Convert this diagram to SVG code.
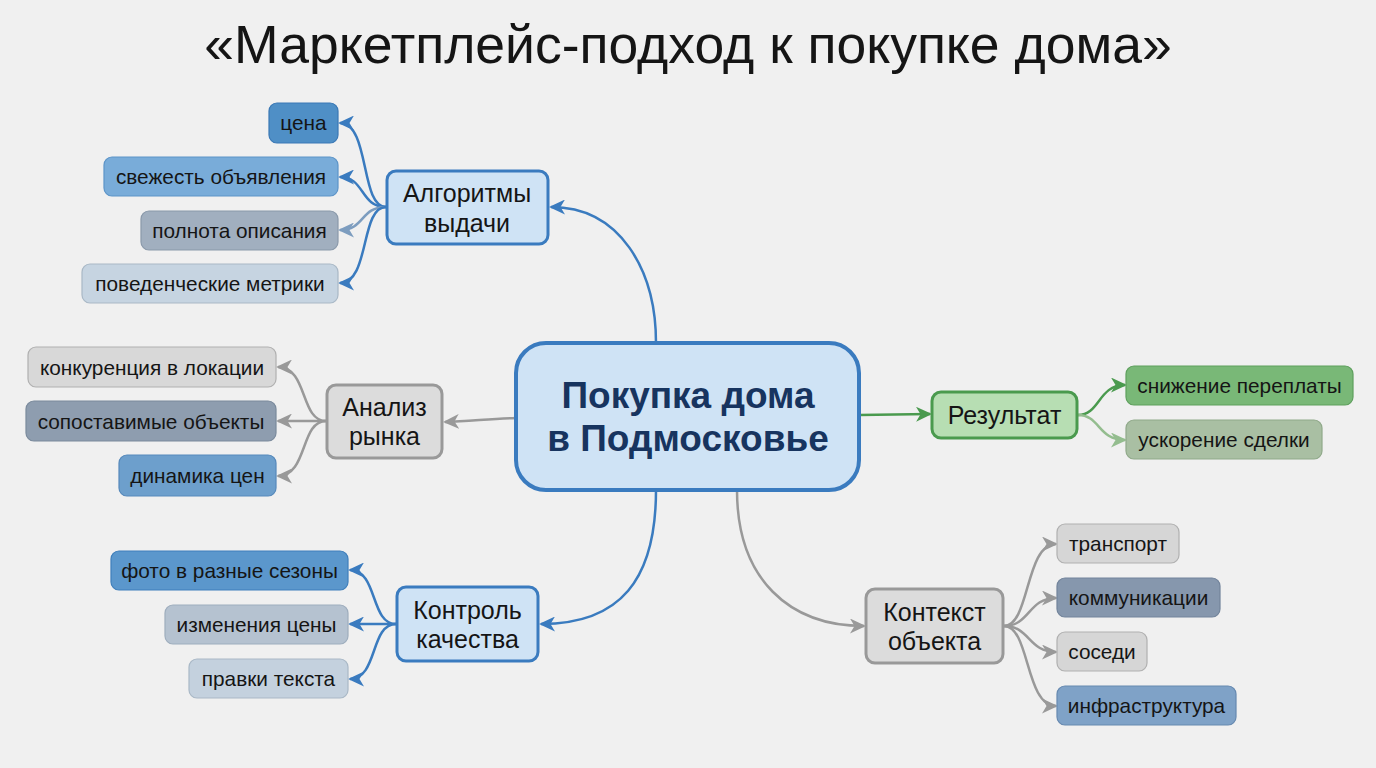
<svg xmlns="http://www.w3.org/2000/svg" width="1376" height="768" viewBox="0 0 1376 768">
<defs>
<style>
text{font-family:"Liberation Sans",Arial,sans-serif;fill:#151515;text-anchor:middle}
.title{font-size:53.5px}
.center{font-size:37px;font-weight:bold;fill:#17345f}
.mid{font-size:25px}
.leaf{font-size:20.8px}
.c{fill:none;stroke-width:2.5}
.blue{stroke:#3a7bbf}
.lblue{stroke:#7d9dbf}
.gray{stroke:#999}
.green{stroke:#4a9a4e}
.lgreen{stroke:#94bd8f}
.mb{fill:#cfe3f5;stroke:#3a7bbf;stroke-width:3}
.mg{fill:#dcdcdc;stroke:#999;stroke-width:3}
.mgr{fill:#b7deb3;stroke:#4a9a4e;stroke-width:3}
.lf{stroke-width:1.2}
</style>
<marker id="ab" markerUnits="userSpaceOnUse" markerWidth="17" markerHeight="15" refX="14" refY="7.5" orient="auto"><path d="M0,0 L16,7.5 L0,15 L4.5,7.5 z" fill="#3a7bbf"/></marker>
<marker id="alb" markerUnits="userSpaceOnUse" markerWidth="17" markerHeight="15" refX="14" refY="7.5" orient="auto"><path d="M0,0 L16,7.5 L0,15 L4.5,7.5 z" fill="#7d9dbf"/></marker>
<marker id="ag" markerUnits="userSpaceOnUse" markerWidth="17" markerHeight="15" refX="14" refY="7.5" orient="auto"><path d="M0,0 L16,7.5 L0,15 L4.5,7.5 z" fill="#999"/></marker>
<marker id="agr" markerUnits="userSpaceOnUse" markerWidth="17" markerHeight="15" refX="14" refY="7.5" orient="auto"><path d="M0,0 L16,7.5 L0,15 L4.5,7.5 z" fill="#4a9a4e"/></marker>
<marker id="algr" markerUnits="userSpaceOnUse" markerWidth="17" markerHeight="15" refX="14" refY="7.5" orient="auto"><path d="M0,0 L16,7.5 L0,15 L4.5,7.5 z" fill="#94bd8f"/></marker>
</defs>
<rect width="1376" height="768" fill="#f0f0f0"/>
<text class="title" x="688" y="63">«Маркетплейс-подход к покупке дома»</text>

<g id="connectors">
<path class="c blue" d="M656,343 C656,270 620,207 551,207" marker-end="url(#ab)"/>
<path class="c gray" d="M516,418 C490,419 470,421 445,422" marker-end="url(#ag)"/>
<path class="c blue" d="M656,490 C656,580 620,624 541,624" marker-end="url(#ab)"/>
<path class="c green" d="M859,415 L930,414" marker-end="url(#agr)"/>
<path class="c gray" d="M737,490 C737,580 790,626 864,626" marker-end="url(#ag)"/>

<path class="c blue" d="M386,207 C360,207 370,123 340,123" marker-end="url(#ab)"/>
<path class="c blue" d="M386,207 C360,207 365,177 340,177" marker-end="url(#ab)"/>
<path class="c lblue" d="M386,207 C360,207 365,230 340,230" marker-end="url(#alb)"/>
<path class="c blue" d="M386,207 C360,207 370,283 340,283" marker-end="url(#ab)"/>

<path class="c gray" d="M326,421 C300,421 308,367 278,367" marker-end="url(#ag)"/>
<path class="c gray" d="M326,421 L278,421" marker-end="url(#ag)"/>
<path class="c gray" d="M326,421 C300,421 308,476 278,476" marker-end="url(#ag)"/>

<path class="c blue" d="M396,624 C370,624 378,570 350,570" marker-end="url(#ab)"/>
<path class="c blue" d="M396,624 L350,624" marker-end="url(#ab)"/>
<path class="c blue" d="M396,624 C370,624 378,679 350,679" marker-end="url(#ab)"/>

<path class="c green" d="M1078,415 C1100,415 1098,385 1125,385" marker-end="url(#agr)"/>
<path class="c lgreen" d="M1078,415 C1100,415 1098,440 1125,440" marker-end="url(#algr)"/>

<path class="c gray" d="M1004,626 C1030,626 1025,544 1056,544" marker-end="url(#ag)"/>
<path class="c gray" d="M1004,626 C1030,626 1028,598 1056,598" marker-end="url(#ag)"/>
<path class="c gray" d="M1004,626 C1030,626 1028,652 1056,652" marker-end="url(#ag)"/>
<path class="c gray" d="M1004,626 C1030,626 1025,706 1056,706" marker-end="url(#ag)"/>
</g>

<g id="center">
<rect x="516" y="343" width="343" height="147" rx="30" fill="#cfe3f5" stroke="#3a7bbf" stroke-width="4"/>
<text class="center" x="688" y="408">Покупка дома</text>
<text class="center" x="688" y="451">в Подмосковье</text>
</g>

<g id="algoritmy">
<rect class="mb" x="387" y="171" width="161" height="73" rx="9"/>
<text class="mid" x="467" y="202">Алгоритмы</text>
<text class="mid" x="467" y="232">выдачи</text>
</g>
<g id="leaf-cena"><rect class="lf" x="269" y="103" width="69" height="40" rx="8" fill="#4f8fc6" stroke="#3a78b5"/><text class="leaf" x="303.5" y="130">цена</text></g>
<g id="leaf-svezhest"><rect class="lf" x="104" y="157" width="234" height="39" rx="8" fill="#79acd9" stroke="#5c94c8"/><text class="leaf" x="221" y="184">свежесть объявления</text></g>
<g id="leaf-polnota"><rect class="lf" x="141" y="211" width="197" height="39" rx="8" fill="#a1afbf" stroke="#8a99aa"/><text class="leaf" x="239.5" y="238">полнота описания</text></g>
<g id="leaf-povedench"><rect class="lf" x="82" y="264" width="256" height="39" rx="8" fill="#c6d4e1" stroke="#a9b8c6"/><text class="leaf" x="210" y="291">поведенческие метрики</text></g>

<g id="analiz">
<rect class="mg" x="327" y="385" width="115" height="73" rx="9"/>
<text class="mid" x="384.5" y="416">Анализ</text>
<text class="mid" x="384.5" y="445">рынка</text>
</g>
<g id="leaf-konkur"><rect class="lf" x="28" y="347" width="248" height="40" rx="8" fill="#d8d8d8" stroke="#b0b0b0"/><text class="leaf" x="152" y="375">конкуренция в локации</text></g>
<g id="leaf-sopost"><rect class="lf" x="26" y="401" width="250" height="40" rx="8" fill="#8e9daf" stroke="#7a8a9c"/><text class="leaf" x="151" y="429">сопоставимые объекты</text></g>
<g id="leaf-dinamika"><rect class="lf" x="119" y="455" width="157" height="41" rx="8" fill="#6d9fcc" stroke="#5689bb"/><text class="leaf" x="197.5" y="483">динамика цен</text></g>

<g id="kontrol">
<rect class="mb" x="397" y="587" width="141" height="74" rx="9"/>
<text class="mid" x="467.5" y="619">Контроль</text>
<text class="mid" x="467.5" y="648">качества</text>
</g>
<g id="leaf-foto"><rect class="lf" x="111" y="551" width="237" height="39" rx="8" fill="#5b97cc" stroke="#3f7fbb"/><text class="leaf" x="229.5" y="578">фото в разные сезоны</text></g>
<g id="leaf-izmen"><rect class="lf" x="165" y="605" width="183" height="39" rx="8" fill="#b5c2d0" stroke="#9eadbd"/><text class="leaf" x="256.5" y="632">изменения цены</text></g>
<g id="leaf-pravki"><rect class="lf" x="189" y="659" width="159" height="39" rx="8" fill="#c4d1de" stroke="#a9b8c6"/><text class="leaf" x="268.5" y="686">правки текста</text></g>

<g id="rezultat">
<rect class="mgr" x="932" y="392" width="145" height="46" rx="9"/>
<text class="mid" x="1004.5" y="424">Результат</text>
</g>
<g id="leaf-snizh"><rect class="lf" x="1126" y="366" width="227" height="39" rx="8" fill="#79b877" stroke="#5e9f5d"/><text class="leaf" x="1239.5" y="393">снижение переплаты</text></g>
<g id="leaf-uskor"><rect class="lf" x="1126" y="420" width="196" height="39" rx="8" fill="#a9bfa3" stroke="#90a98a"/><text class="leaf" x="1224" y="447">ускорение сделки</text></g>

<g id="kontekst">
<rect class="mg" x="866" y="589" width="137" height="74" rx="9"/>
<text class="mid" x="934.5" y="621">Контекст</text>
<text class="mid" x="934.5" y="650">объекта</text>
</g>
<g id="leaf-transport"><rect class="lf" x="1057" y="524" width="122" height="39" rx="8" fill="#d6d6d6" stroke="#b0b0b0"/><text class="leaf" x="1118" y="551">транспорт</text></g>
<g id="leaf-kommun"><rect class="lf" x="1057" y="578" width="163" height="39" rx="8" fill="#8697ad" stroke="#72849b"/><text class="leaf" x="1138.5" y="605">коммуникации</text></g>
<g id="leaf-sosedi"><rect class="lf" x="1057" y="632" width="90" height="39" rx="8" fill="#d6d6d6" stroke="#b0b0b0"/><text class="leaf" x="1102" y="659">соседи</text></g>
<g id="leaf-infra"><rect class="lf" x="1057" y="686" width="179" height="39" rx="8" fill="#7fa2c7" stroke="#6689b0"/><text class="leaf" x="1146.5" y="713">инфраструктура</text></g>
</svg>
